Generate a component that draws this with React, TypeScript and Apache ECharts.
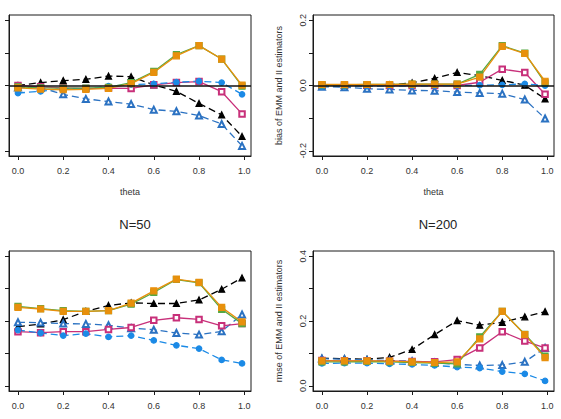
import React, { useEffect, useRef } from "react";
import * as echarts from "echarts";

// theta grid shared by every panel (last point sits just short of 1)
const theta = [0, 0.1, 0.2, 0.3, 0.4, 0.5, 0.6, 0.7, 0.8, 0.9, 0.99];

// Bias, left panel
const biasA_black = [0.0, 0.009, 0.015, 0.019, 0.029, 0.027, 0.002, -0.018, -0.055, -0.09, -0.156];
const biasA_blueTri = [-0.006, -0.007, -0.027, -0.041, -0.049, -0.057, -0.074, -0.079, -0.092, -0.118, -0.185];
const biasA_magenta = [0.0, -0.004, -0.007, -0.009, -0.008, -0.009, 0.002, 0.009, 0.012, -0.019, -0.087];
const biasA_blueDot = [-0.023, -0.018, -0.009, -0.011, -0.002, 0.003, 0.005, 0.01, 0.013, 0.009, -0.027];
const biasA_green = [-0.004, -0.007, -0.008, -0.008, -0.006, 0.009, 0.043, 0.095, 0.122, 0.081, -0.002];
const biasA_orange = [-0.007, -0.011, -0.013, -0.012, -0.009, 0.006, 0.04, 0.091, 0.122, 0.081, 0.001];

// Bias, right panel
const biasB_black = [0.0, 0.0, 0.001, 0.002, 0.008, 0.022, 0.04, 0.03, 0.016, 0.001, -0.041];
const biasB_blueTri = [-0.004, -0.005, -0.01, -0.012, -0.015, -0.016, -0.02, -0.023, -0.025, -0.043, -0.101];
const biasB_magenta = [0.001, 0.001, 0.001, 0.0, 0.0, 0.0, 0.0, 0.01, 0.05, 0.04, -0.027];
const biasB_blueDot = [-0.003, -0.002, -0.002, -0.001, -0.001, -0.001, 0.0, 0.001, 0.002, 0.005, 0.0];
const biasB_green = [0.002, 0.002, 0.003, 0.003, 0.004, 0.004, 0.004, 0.034, 0.122, 0.099, 0.008];
const biasB_orange = [0.003, 0.003, 0.003, 0.003, 0.004, 0.004, 0.004, 0.026, 0.12, 0.098, 0.013];

// RMSE, N=50
const rmse50_black = [0.182, 0.191, 0.204, 0.23, 0.248, 0.256, 0.254, 0.254, 0.265, 0.298, 0.333];
const rmse50_blueTri = [0.196, 0.195, 0.192, 0.191, 0.187, 0.178, 0.173, 0.163, 0.158, 0.168, 0.22];
const rmse50_magenta = [0.167, 0.164, 0.167, 0.167, 0.174, 0.18, 0.202, 0.21, 0.205, 0.185, 0.192];
const rmse50_blueDot = [0.172, 0.163, 0.155, 0.161, 0.151, 0.155, 0.14, 0.125, 0.115, 0.08, 0.069];
const rmse50_green = [0.245, 0.238, 0.232, 0.23, 0.232, 0.252, 0.288, 0.328, 0.318, 0.236, 0.192];
const rmse50_orange = [0.242, 0.237, 0.23, 0.23, 0.232, 0.255, 0.293, 0.329, 0.319, 0.242, 0.197];

// RMSE, N=200
const rmse200_black = [0.085, 0.084, 0.082, 0.088, 0.112, 0.158, 0.201, 0.187, 0.196, 0.213, 0.229];
const rmse200_blueTri = [0.084, 0.082, 0.08, 0.078, 0.076, 0.071, 0.066, 0.063, 0.064, 0.074, 0.117];
const rmse200_magenta = [0.078, 0.077, 0.077, 0.076, 0.075, 0.074, 0.081, 0.117, 0.167, 0.138, 0.117];
const rmse200_blueDot = [0.069, 0.07, 0.07, 0.068, 0.066, 0.063, 0.058, 0.055, 0.044, 0.037, 0.015];
const rmse200_green = [0.074, 0.074, 0.075, 0.074, 0.072, 0.07, 0.068, 0.151, 0.23, 0.159, 0.092];
const rmse200_orange = [0.077, 0.077, 0.077, 0.076, 0.074, 0.072, 0.074, 0.145, 0.23, 0.158, 0.087];

// Tick positions
const xTicks = [0, 0.2, 0.4, 0.6, 0.8, 1.0];
const biasTicks = [-0.2, -0.1, 0, 0.1, 0.2];
const biasLabels = [-0.2, 0, 0.2];
const rmseTicks = [0, 0.1, 0.2, 0.3, 0.4];
const rmseLabels = [0, 0.2, 0.4];

const titles = ["N=50", "N=200"];
const biasName = "bias of EMM and II estimators";
const rmseName = "rmse of EMM and II estimators";
const xName = "theta";

const FONT = "'Liberation Sans', Arial, Helvetica, sans-serif";

type Style = {
  color: string;
  symbol: string;
  size: number;
  dashed: boolean;
};

const STYLES: Style[] = [
  { color: "#000000", symbol: "triangle", size: 6, dashed: true },
  { color: "#2b72c2", symbol: "emptyTriangle", size: 6, dashed: true },
  { color: "#c8307a", symbol: "emptyRect", size: 5.5, dashed: false },
  { color: "#1b8ae6", symbol: "circle", size: 5.5, dashed: true },
  { color: "#55a843", symbol: "rect", size: 6, dashed: false },
  { color: "#e8900c", symbol: "rect", size: 6, dashed: false },
];

const panels = [
  { data: [biasA_black, biasA_blueTri, biasA_magenta, biasA_blueDot, biasA_green, biasA_orange], bias: true },
  { data: [biasB_black, biasB_blueTri, biasB_magenta, biasB_blueDot, biasB_green, biasB_orange], bias: true },
  { data: [rmse50_black, rmse50_blueTri, rmse50_magenta, rmse50_blueDot, rmse50_green, rmse50_orange], bias: false },
  { data: [rmse200_black, rmse200_blueTri, rmse200_magenta, rmse200_blueDot, rmse200_green, rmse200_orange], bias: false },
];

const GRIDS = [
  { left: 9, top: 15, width: 242, height: 141 },
  { left: 313, top: 15, width: 241, height: 141 },
  { left: 9, top: 251, width: 242, height: 140 },
  { left: 313, top: 251, width: 241, height: 140 },
];

const fmt = (v: number) => (Math.abs(v) < 1e-9 ? "0.0" : v.toFixed(1));

function buildOption() {
  const grid = GRIDS.map((g) => ({
    ...g,
    show: true,
    borderColor: "#1a1a1a",
    borderWidth: 1,
    backgroundColor: "transparent",
    containLabel: false,
  }));

  const xAxis = panels.map((p, i) => ({
    type: "value",
    gridIndex: i,
    min: -0.0396,
    max: 1.0296,
    name: i < 2 ? xName : "",
    nameLocation: "middle",
    nameGap: 31,
    nameTextStyle: { fontFamily: FONT, fontSize: 9, color: "#333" },
    axisLine: { show: true, onZero: false, lineStyle: { color: "#1a1a1a", width: 1 } },
    axisTick: { show: true, length: 4, customValues: xTicks, lineStyle: { color: "#1a1a1a" } },
    axisLabel: {
      show: true,
      customValues: xTicks,
      formatter: fmt,
      margin: 10,
      fontFamily: FONT,
      fontSize: 9,
      color: "#333",
    },
    splitLine: { show: false },
  }));

  const yAxis = panels.map((p, i) => {
    const right = i % 2 === 1;
    return {
      type: "value",
      gridIndex: i,
      min: p.bias ? -0.216 : -0.016,
      max: p.bias ? 0.216 : 0.416,
      name: right ? (p.bias ? biasName : rmseName) : "",
      nameLocation: "middle",
      nameGap: 30,
      nameRotate: 90,
      nameTextStyle: { fontFamily: FONT, fontSize: 9, color: "#333" },
      axisLine: { show: true, onZero: false, lineStyle: { color: "#1a1a1a", width: 1 } },
      axisTick: {
        show: true,
        length: 4,
        customValues: p.bias ? biasTicks : rmseTicks,
        lineStyle: { color: "#1a1a1a" },
      },
      axisLabel: {
        show: right,
        customValues: p.bias ? biasLabels : rmseLabels,
        formatter: fmt,
        rotate: 90,
        align: "center",
        verticalAlign: "middle",
        margin: 10,
        fontFamily: FONT,
        fontSize: 9,
        color: "#333",
      },
      splitLine: { show: false },
    };
  });

  const series: any[] = [];
  panels.forEach((p, i) => {
    p.data.forEach((vals, k) => {
      const st = STYLES[k];
      const s: any = {
        type: "line",
        xAxisIndex: i,
        yAxisIndex: i,
        data: theta.map((t, j) => [t, vals[j]]),
        symbol: st.symbol,
        symbolSize: st.size,
        showSymbol: true,
        lineStyle: { color: st.color, width: 1.3, type: st.dashed ? [7, 4] : "solid" },
        itemStyle: { color: st.color, borderColor: st.color, borderWidth: 1.2 },
        emphasis: { disabled: true },
        silent: true,
      };
      if (p.bias && k === 0) {
        s.markLine = {
          silent: true,
          symbol: "none",
          label: { show: false },
          lineStyle: { color: "#111", type: "solid", width: 1.6 },
          data: [{ yAxis: 0 }],
        };
      }
      series.push(s);
    });
  });

  const title = titles.map((t, i) => ({
    text: t,
    left: i === 0 ? 130 : 433,
    top: 213,
    textAlign: "center",
    textStyle: { fontFamily: FONT, fontSize: 13, fontWeight: "normal", color: "#222" },
  }));

  return {
    animation: false,
    backgroundColor: "#ffffff",
    title,
    grid,
    xAxis,
    yAxis,
    series,
  };
}

export default function App() {
  const ref = useRef<HTMLDivElement>(null);
  useEffect(() => {
    if (!ref.current) return;
    const chart = echarts.init(ref.current, undefined, { renderer: "svg" });
    chart.setOption(buildOption() as any);
    return () => chart.dispose();
  }, []);
  return (
    <div
      ref={ref}
      style={{ position: "fixed", left: 0, top: 0, width: 561, height: 419, background: "#fff" }}
    />
  );
}
